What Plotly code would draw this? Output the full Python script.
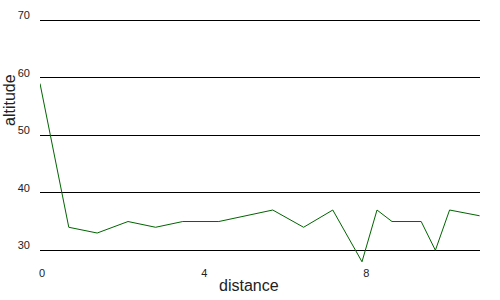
import plotly.graph_objects as go

distance = [0, 0.71, 1.41, 2.17, 2.85, 3.52, 4.41, 5.74, 6.50, 7.22, 7.94, 8.31, 8.68, 9.40, 9.75, 10.10, 10.84]
altitude = [59, 34, 33, 35, 34, 35, 35, 37, 34, 37, 28, 37, 35, 35, 30, 37, 36]
x_ticks = [0, 4, 8]
y_ticks = [30, 40, 50, 60, 70]

fig = go.Figure()
fig.add_trace(go.Scatter(x=distance, y=altitude, mode="lines",
                         line=dict(color="#006400", width=1), hoverinfo="skip"))

fig.update_layout(
    width=500, height=300,
    margin=dict(l=40, r=20, t=5, b=35),
    paper_bgcolor="white", plot_bgcolor="white",
    showlegend=False,
    font=dict(family="Liberation Sans, Arial", size=11, color="#222222"),
    xaxis=dict(range=[0, 10.85], tickvals=x_ticks, showgrid=False, zeroline=False,
               showline=False, ticks="", ticklabelshift=2, ticklabelstandoff=0,
               tickfont=dict(size=11, color="#222222")),
    yaxis=dict(range=[27.44, 72.66], tickvals=y_ticks, showgrid=True,
               gridcolor="black", gridwidth=1, zeroline=False, showline=False,
               ticks="", ticklabelshift=-5, ticklabelstandoff=9,
               tickfont=dict(size=11, color="#222222")),
    annotations=[
        dict(text="distance", xref="paper", yref="paper", x=0.475, y=-0.077,
             showarrow=False, font=dict(size=16, color="#222222"),
             xanchor="center", yanchor="middle"),
        dict(text="altitude", xref="paper", yref="paper", x=-0.0705, y=0.6346,
             showarrow=False, textangle=-90, font=dict(size=16, color="#222222"),
             xanchor="center", yanchor="middle"),
    ],
)

fig.write_html("out.html")
